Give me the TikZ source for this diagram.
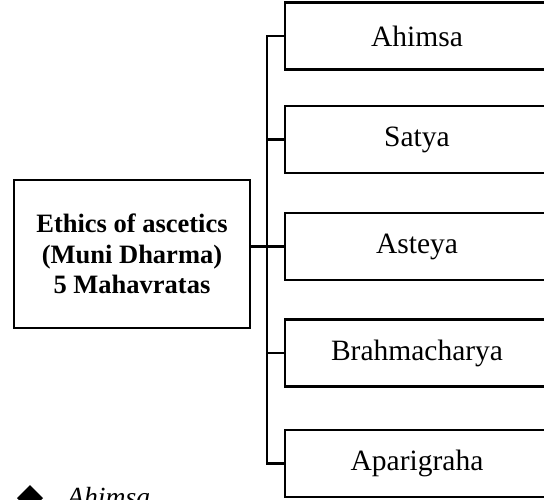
\documentclass[tikz,border=0pt]{standalone}
\usepackage{fontspec}
\setmainfont{Liberation Serif}

\begin{document}
\begin{tikzpicture}[x=1pt,y=-1pt,
  vratabox/.style={draw, line width=2.4pt, minimum width=264pt, minimum height=67pt,
    inner sep=0pt, font=\fontsize{29.5}{33}\selectfont},
  mainbox/.style={draw, line width=2.4pt, minimum width=236pt, minimum height=148pt,
    inner sep=0pt, align=center, font=\fontsize{26.5}{30.5}\selectfont\bfseries},
  branch/.style={line width=2.4pt}]
\useasboundingbox (0,0) rectangle (544,499);
\node[mainbox] (ethics) at (132,254) {Ethics of ascetics\\(Muni Dharma)\\5 Mahavratas};
\foreach \y/\name/\txt in {36/ahimsa/Ahimsa, 139.5/satya/Satya, 246.5/asteya/Asteya,
    353/brahmacharya/Brahmacharya, 463.5/aparigraha/Aparigraha}
	\node[vratabox] (\name) at (417,\y) {\txt};
\coordinate (trunk) at (267,0);
\draw[branch] (ahimsa.west) -| (aparigraha.west -| trunk) -- (aparigraha.west);
\foreach \name in {satya,asteya,brahmacharya}
	\draw[branch] (\name.west) -- (\name.west -| trunk);
\draw[branch] (asteya.west -| trunk) -- (asteya.west -| ethics.east);
% cut-off bullet line below
\fill (30,485) -- (43,498) -- (30,511) -- (17,498) -- cycle;
\node[anchor=base west, inner sep=0pt, font=\fontsize{27.7}{30}\selectfont\itshape] (bullet) at (67,506) {Ahimsa};
\end{tikzpicture}
\end{document}
